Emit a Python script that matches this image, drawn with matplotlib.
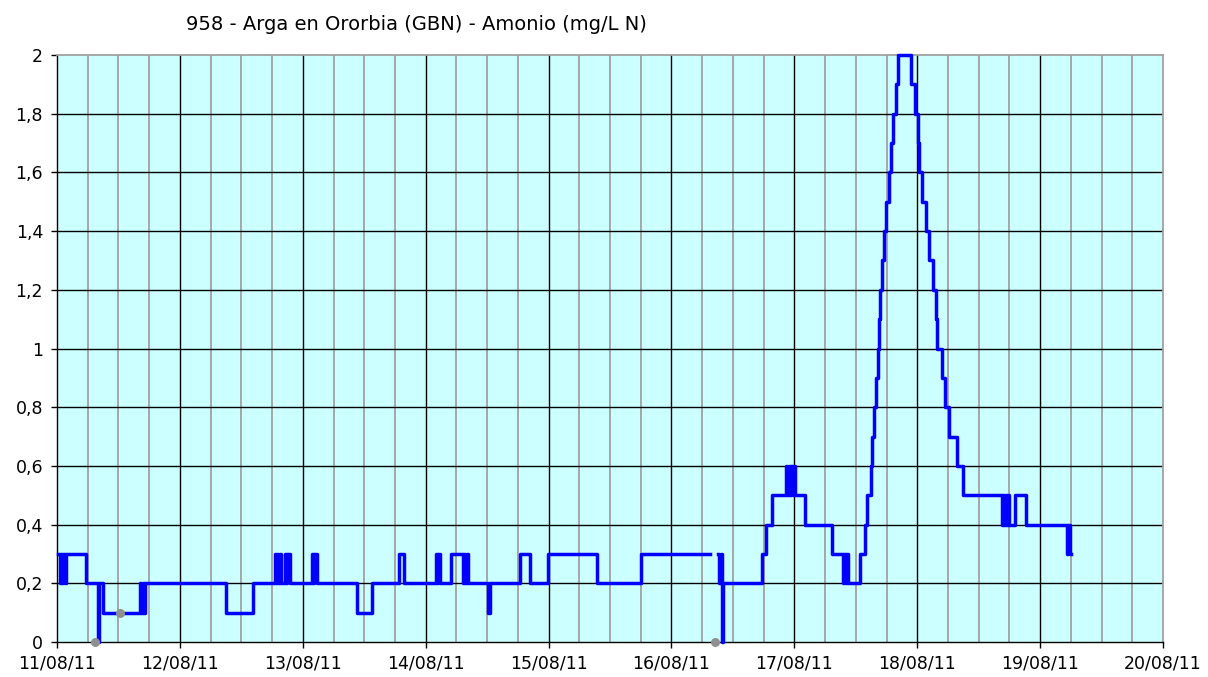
import numpy as np
import matplotlib
matplotlib.use("Agg")
import matplotlib.pyplot as plt

# Hours since 11/08/11 00:00 and ammonium value (mg/L N), drawn as steps
horas = [0.25, 0.5, 0.75, 1.0, 1.25, 1.5, 1.75, 5.7, 8.0, 8.3, 9.0,
         16.25, 16.5, 16.75, 17.0, 17.25, 33.1, 38.2,
         42.5, 42.75, 43.0, 43.25, 43.5, 43.75, 44.5, 44.75, 45.0, 45.5,
         49.75, 50.0, 50.25, 50.75, 58.5, 61.5, 66.8, 67.75,
         74.0, 74.25, 74.5, 74.75, 76.9, 79.25, 79.5, 79.75, 80.0, 80.25,
         84.2, 84.5, 90.4, 92.4, 95.9, 105.4, 114.0, 127.6,
         129.1, 129.35, 129.6, 129.85, 130.1, 137.6, 138.4, 139.6,
         142.4, 142.65, 142.9, 143.15, 143.4, 143.65, 143.9, 144.15, 146.1,
         151.3, 153.5, 153.75, 154.0, 154.25, 154.5, 156.8,
         157.75, 158.2, 158.9, 159.2, 159.6, 159.9, 160.4, 160.6, 160.75,
         161.1, 161.5, 161.9, 162.4, 162.9, 163.3, 163.8, 164.2,
         166.7, 167.5, 168.2, 168.4, 168.9, 169.7, 170.3, 171.1, 171.7,
         171.9, 172.8, 173.4, 174.3, 175.7, 177.0,
         184.5, 184.75, 185.0, 185.25, 185.5, 185.75, 186.0, 187.1, 189.2,
         197.25, 197.5, 197.75, 198.0]
amonio = [0.3, 0.2, 0.3, 0.2, 0.3, 0.2, 0.3, 0.2, 0.0, 0.2, 0.1,
          0.2, 0.1, 0.2, 0.1, 0.2, 0.1, 0.2,
          0.3, 0.2, 0.3, 0.2, 0.3, 0.2, 0.3, 0.2, 0.3, 0.2,
          0.3, 0.2, 0.3, 0.2, 0.1, 0.2, 0.3, 0.2,
          0.3, 0.2, 0.3, 0.2, 0.3, 0.2, 0.3, 0.2, 0.3, 0.2,
          0.1, 0.2, 0.3, 0.2, 0.3, 0.2, 0.3, np.nan,
          0.3, 0.2, 0.3, 0.0, 0.2, 0.3, 0.4, 0.5,
          0.6, 0.5, 0.6, 0.5, 0.6, 0.5, 0.6, 0.5, 0.4,
          0.3, 0.2, 0.3, 0.2, 0.3, 0.2, 0.3,
          0.4, 0.5, 0.6, 0.7, 0.8, 0.9, 1.0, 1.1, 1.2,
          1.3, 1.4, 1.5, 1.6, 1.7, 1.8, 1.9, 2.0,
          1.9, 1.8, 1.7, 1.6, 1.5, 1.4, 1.3, 1.2, 1.1,
          1.0, 0.9, 0.8, 0.7, 0.6, 0.5,
          0.4, 0.5, 0.4, 0.5, 0.4, 0.5, 0.4, 0.5, 0.4,
          0.3, 0.4, 0.3, 0.3]

# flagged (grey) points
horas_marca = [7.5, 12.4, 128.5]
valor_marca = [0.0, 0.1, 0.0]

dias = ['11/08/11', '12/08/11', '13/08/11', '14/08/11', '15/08/11',
        '16/08/11', '17/08/11', '18/08/11', '19/08/11', '20/08/11']
y_ticks = [0, 0.2, 0.4, 0.6, 0.8, 1.0, 1.2, 1.4, 1.6, 1.8, 2.0]
y_labels = ['0', '0,2', '0,4', '0,6', '0,8', '1', '1,2', '1,4', '1,6', '1,8', '2']

fig = plt.figure(figsize=(12.08, 6.77), dpi=100)
ax = fig.add_axes([57 / 1208, 1 - 642 / 677, (1163 - 57) / 1208, (642 - 55) / 677])
ax.set_facecolor('#CCFFFF')

x_max = 24 * (len(dias) - 1)
ax.set_xlim(0, x_max)
ax.set_ylim(0, 2)

# grid: grey every 6 h, black every day and every 0.2
for h in range(6, x_max, 6):
    if h % 24 == 0:
        ax.axvline(h, color='black', lw=1.0, zorder=1)
    else:
        ax.axvline(h, color='#A0A0A0', lw=1.3, zorder=1)
for yv in y_ticks[1:-1]:
    ax.axhline(yv, color='black', lw=1.0, zorder=1)

ax.plot(horas, amonio, drawstyle='steps-post', color='#0000FF', lw=2.5,
        zorder=3, clip_on=False)
ax.scatter(horas_marca, valor_marca, s=30, color='#909090', zorder=4, clip_on=False)

ax.set_xticks(range(0, x_max + 1, 24))
ax.set_xticklabels(dias)
ax.set_yticks(y_ticks)
ax.set_yticklabels(y_labels)
ax.tick_params(axis='both', direction='out', length=4, width=1, labelsize=12.5,
               colors='black')
ax.tick_params(axis='x', pad=5)
ax.tick_params(axis='y', pad=6)

for s in ['left', 'bottom']:
    ax.spines[s].set_color('black')
    ax.spines[s].set_linewidth(1.0)
for s in ['top', 'right']:
    ax.spines[s].set_color('#A0A0A0')
    ax.spines[s].set_linewidth(1.3)

fig.text(416 / 1208, 1 - 24 / 677, '958 - Arga en Ororbia (GBN) - Amonio (mg/L N)',
         ha='center', va='center', fontsize=14, fontweight='medium')

fig.savefig('out.png', dpi=100)
